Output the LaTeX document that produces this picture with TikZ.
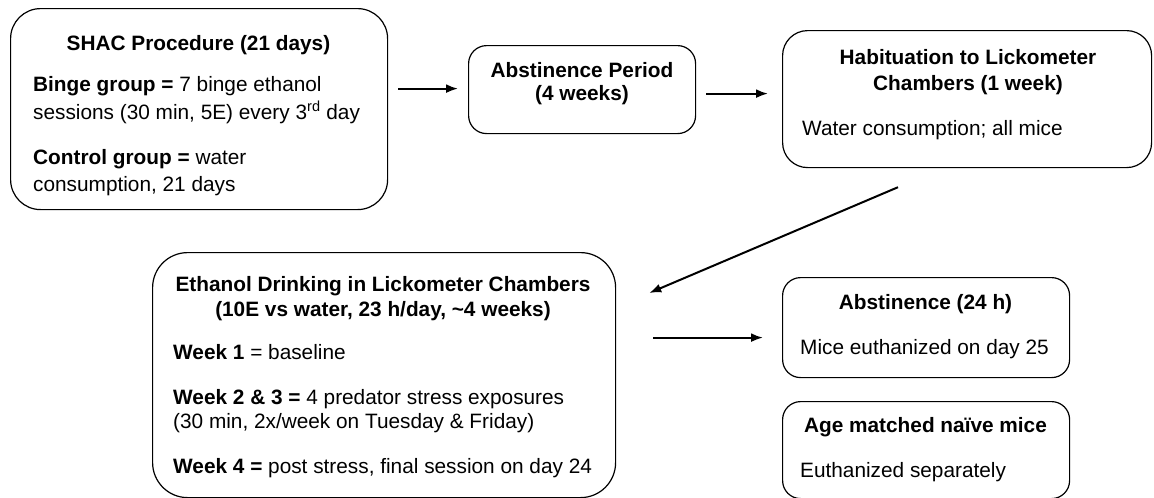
\documentclass[tikz,border=0pt]{standalone}
\usepackage{fontspec}
\setmainfont{Liberation Sans}
\usetikzlibrary{arrows.meta,calc}
\begin{document}
\begin{tikzpicture}[x=1pt,y=-1pt,
  box/.style={draw, line width=1.2pt, rounded corners=#1, inner sep=0pt, anchor=north west},
  box/.default=20pt,
  txt/.style={anchor=base west, inner sep=0pt, font=\fontsize{20.8}{25}\selectfont},
  ttl/.style={anchor=base, inner sep=0pt, font=\fontsize{20.8}{25}\selectfont\bfseries},
  flow/.style={-{Latex[length=12pt,width=9pt]}, line width=2pt}]
\useasboundingbox (0,0) rectangle (1154,498);

% boxes
\node[box=30pt, minimum width=377pt, minimum height=201pt] (shac) at (10,8) {};
\node[box=18pt, minimum width=227pt, minimum height=88pt] (abst) at (468,45) {};
\node[box=25pt, minimum width=369pt, minimum height=137pt] (hab) at (782,30) {};
\node[box=35pt, minimum width=463pt, minimum height=245pt] (eth) at (152,252) {};
\node[box=18pt, minimum width=287pt, minimum height=100pt] (abs24) at (782,277) {};
\node[box=18pt, minimum width=287pt, minimum height=97pt] (naive) at (782,401) {};

% SHAC text
\node[ttl] (t1) at (198.5,50) {SHAC Procedure (21 days)};
\node[txt] (t1a) at (33,91) {\textbf{Binge group =} 7 binge ethanol};
\node[txt] (t1b) at (33,119) {sessions (30 min, 5E) every 3\textsuperscript{rd} day};
\node[txt] (t1c) at (33,164) {\textbf{Control group =} water};
\node[txt] (t1d) at (33,191) {consumption, 21 days};

% Abstinence period
\node[ttl] (t2a) at (582,77) {Abstinence Period};
\node[ttl] (t2b) at (582,100) {(4 weeks)};

% Habituation
\node[ttl] (t3a) at (968,64) {Habituation to Lickometer};
\node[ttl] (t3b) at (968,90) {Chambers (1 week)};
\node[txt] (t3c) at (802,135) {Water consumption; all mice};

% Ethanol drinking
\node[ttl] (t4a) at (383,291) {Ethanol Drinking in Lickometer Chambers};
\node[ttl] (t4b) at (383,316) {(10E vs water, 23 h/day, \textasciitilde4 weeks)};
\node[txt] (t4c) at (173,359) {\textbf{Week 1} = baseline};
\node[txt] (t4d) at (173,404) {\textbf{Week 2 \& 3 =} 4 predator stress exposures};
\node[txt] (t4e) at (173,428) {(30 min, 2x/week on Tuesday \& Friday)};
\node[txt] (t4f) at (173,473) {\textbf{Week 4 =} post stress, final session on day 24};

% Abstinence 24 h
\node[ttl] (t5a) at (925.5,309) {Abstinence (24 h)};
\node[txt] (t5b) at (800,354) {Mice euthanized on day 25};

% Naive
\node[ttl] (t6a) at (925.5,432) {Age matched naïve mice};
\node[txt] (t6b) at (800,477) {Euthanized separately};

% connectors
\draw[flow] ($(shac.east |- abst.west)+(10,-1)$) -- ($(abst.west)+(-10,-1)$);
\draw[flow] ($(abst.east)+(10,4)$) -- ($(abst.east -| hab.west)+(-14,4)$);
\draw[flow] ($(hab.south west)+(116,19)$) -- ($(eth.north east)+(33,41)$);
\draw[flow] ($(eth.east |- abs24.west)+(37,10)$) -- ($(abs24.west)+(-19,10)$);
\end{tikzpicture}
\end{document}
